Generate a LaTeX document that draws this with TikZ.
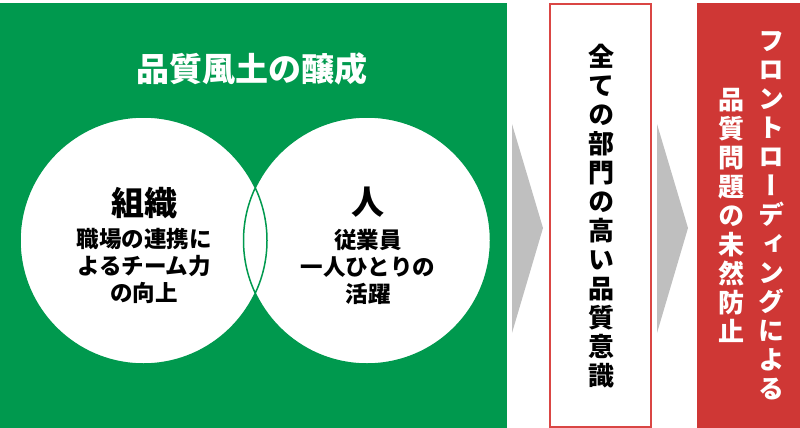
\documentclass[tikz,border=0pt]{standalone}
\usepackage{fontspec}
\setmainfont{Noto Sans CJK JP}
\newfontfamily\tatefont{Noto Sans CJK JP}[RawFeature=+vert]
\usetikzlibrary{positioning}
\definecolor{fgreen}{RGB}{0,153,78}
\definecolor{fred}{RGB}{207,55,53}
\definecolor{fline}{RGB}{218,70,68}
\definecolor{fgray}{RGB}{191,191,191}

\begin{document}
\begin{tikzpicture}[x=1pt, y=-1pt,
	ring/.style={circle, minimum size=247pt, inner sep=0pt, fill=white},
	head/.style={text=#1, font=\bfseries\fontsize{33}{36}\selectfont},
	body/.style={align=center, font=\bfseries\fontsize{22.5}{27}\selectfont},
	tate/.style={align=center, inner sep=0pt, text=#1, font=\tatefont\bfseries\fontsize{26}{29}\selectfont}]
	\useasboundingbox (0, 0) rectangle (800, 428);
	\fill [fgreen] (0, 3) rectangle (507, 428);
	\fill [fgray] (512, 124) -- (543, 228) -- (512, 333) -- cycle;
	\fill [fgray] (657, 124) -- (688, 228) -- (657, 333) -- cycle;
	\draw [fline, line width=1.5pt] (550, 4) rectangle (651, 427);
	\fill [fred] (697, 3) rectangle (800, 428);

	\node (title) at (252, 69) [head=white] {品質風土の醸成};
	\node [ring] (org) at (143.5, 240.5) {};
	\node [ring] (person) at (367, 240.5) {};
	\draw [fgreen, line width=1.5pt] (org.center) circle (123.5) (person.center) circle (123.5);

	\node (orghead) at (144, 203) [head=black] {組織};
	\node (orgtext) at (144, 266) [body] {職場の連携に\\よるチーム力\\の向上};
	\node (personhead) at (368, 202) [head=black] {人};
	\node (persontext) at (368, 267) [body] {従業員\\一人ひとりの\\活躍};

	\node (dept) at (601, 216) [tate=black] {全\\て\\の\\部\\門\\の\\高\\い\\品\\質\\意\\識};
	\node (front) at (771, 216) [tate=white] {フ\\ロ\\ン\\ト\\ロ\\ー\\デ\\ィ\\ン\\グ\\に\\よ\\る};
	\node (prevent) at (731, 215) [tate=white] {品\\質\\問\\題\\の\\未\\然\\防\\止};
\end{tikzpicture}
\end{document}
